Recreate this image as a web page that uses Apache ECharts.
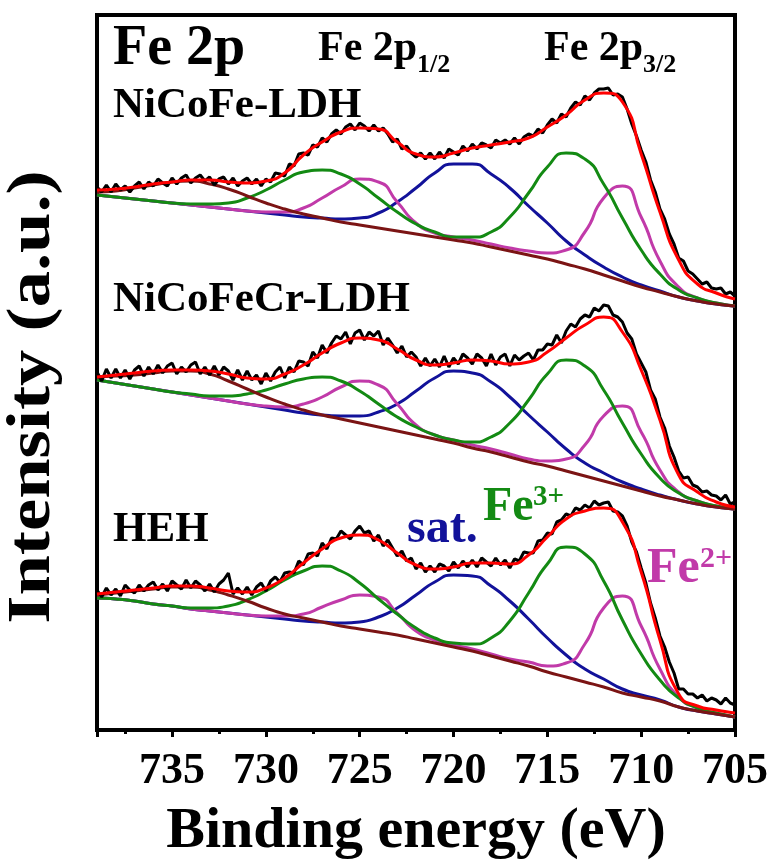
<!DOCTYPE html>
<html lang="en">
<head>
    <meta charset="UTF-8">
    <title>Fe 2p XPS</title>
    <style>
        body { margin: 0; padding: 0; background: #fff; }
        #chart { width: 771px; height: 864px; }
    </style>
</head>
<body>
<div id="chart"></div>
<script src="https://cdn.jsdelivr.net/npm/echarts@6/dist/echarts.min.js"></script>
<script>
    const FONT = '"Liberation Serif", "Times New Roman", serif';

    // binding energy grid (eV) for the fitted curves
    const energy = [739, 738, 737, 736, 735, 734, 733, 732, 731, 730, 729, 728, 727, 726, 725, 724, 723, 722,
        721, 720, 719, 718, 717, 716, 715, 714, 713, 712, 711, 710, 709, 708, 707, 706, 705];

    // binding energy grid (eV) for the raw spectra
    const energyRaw = [
        739, 738.75, 738.5, 738.25, 738, 737.75, 737.5, 737.25, 737, 736.75, 736.5, 736.25,
        736, 735.75, 735.5, 735.25, 735, 734.75, 734.5, 734.25, 734, 733.75, 733.5, 733.25,
        733, 732.75, 732.5, 732.25, 732, 731.75, 731.5, 731.25, 731, 730.75, 730.5, 730.25,
        730, 729.75, 729.5, 729.25, 729, 728.75, 728.5, 728.25, 728, 727.75, 727.5, 727.25,
        727, 726.75, 726.5, 726.25, 726, 725.75, 725.5, 725.25, 725, 724.75, 724.5, 724.25,
        724, 723.75, 723.5, 723.25, 723, 722.75, 722.5, 722.25, 722, 721.75, 721.5, 721.25,
        721, 720.75, 720.5, 720.25, 720, 719.75, 719.5, 719.25, 719, 718.75, 718.5, 718.25,
        718, 717.75, 717.5, 717.25, 717, 716.75, 716.5, 716.25, 716, 715.75, 715.5, 715.25,
        715, 714.75, 714.5, 714.25, 714, 713.75, 713.5, 713.25, 713, 712.75, 712.5, 712.25,
        712, 711.75, 711.5, 711.25, 711, 710.75, 710.5, 710.25, 710, 709.75, 709.5, 709.25,
        709, 708.75, 708.5, 708.25, 708, 707.75, 707.5, 707.25, 707, 706.75, 706.5, 706.25,
        706, 705.75, 705.5, 705.25, 705];

    // NiCoFe-LDH (top)
    const topRaw = [
        543, 538, 545, 538, 546, 540, 544, 538, 544, 548, 541, 548,
        544, 551, 547, 544, 552, 546, 552, 555, 547, 552, 555, 549,
        553, 545, 551, 553, 546, 552, 544, 549, 552, 546, 551, 544,
        551, 548, 557, 556, 554, 566, 564, 576, 577, 575, 585, 583,
        592, 588, 596, 600, 596, 603, 606, 600, 607, 604, 599, 605,
        599, 602, 596, 588, 591, 581, 584, 577, 573, 577, 571, 577,
        571, 578, 572, 581, 578, 575, 584, 579, 586, 581, 587, 585,
        582, 590, 587, 590, 586, 592, 586, 593, 596, 594, 601, 597,
        605, 611, 607, 616, 613, 622, 628, 625, 634, 630, 637, 641,
        641, 642, 635, 636, 633, 621, 606, 594, 580, 568, 550, 538,
        521, 511, 496, 486, 472, 469, 459, 456, 451, 446, 448, 442,
        441, 442, 436, 438, 434];
    const topFit = [540, 541, 543, 546, 548, 550, 550, 548, 547, 549, 557, 575, 588, 598, 602, 601, 588, 576,
        573, 577, 582, 585, 588, 592, 603, 615, 630, 637, 628, 576, 518, 470, 446, 437, 431];
    const topBg = [538, 539, 542, 545, 548, 549, 546, 541, 534, 527, 521, 516, 512, 508, 505, 502, 499, 496,
        493, 490, 487, 483, 479, 475, 471, 466, 461, 455, 449, 443, 438, 433, 429, 426, 424];
    const topFe3 = [535, 533, 531, 529, 527, 526, 526, 527, 532, 540, 550, 558, 560, 556, 546, 532, 518, 506,
        498, 493, 493, 498, 513, 537, 563, 577, 571, 546, 512, 480, 456, 440, 432, 427, 424];
    const topFe2 = [535, 533, 531, 529, 527, 525, 523, 521, 519, 518, 518, 522, 532, 543, 551, 548, 528, 507,
        497, 493, 490, 486, 482, 479, 477, 480, 498, 532, 544, 513, 469, 443, 432, 427, 424];
    const topSat = [535, 533, 531, 529, 527, 525, 523, 521, 519, 517, 515, 513, 512, 511, 512, 517, 528, 542,
        557, 566, 566, 556, 542, 524, 507, 489, 475, 463, 453, 445, 439, 433, 429, 426, 424];

    // NiCoFeCr-LDH (middle)
    const midRaw = [
        358, 349, 361, 352, 361, 352, 360, 351, 360, 364, 354, 363,
        356, 365, 357, 364, 367, 356, 363, 358, 365, 368, 356, 363,
        355, 364, 355, 363, 359, 350, 360, 350, 359, 350, 355, 346,
        357, 349, 358, 363, 352, 363, 358, 369, 368, 364, 378, 372,
        385, 377, 387, 394, 391, 398, 386, 397, 400, 390, 398, 394,
        399, 385, 392, 385, 377, 384, 373, 378, 373, 364, 372, 364,
        371, 363, 374, 363, 372, 366, 376, 372, 366, 376, 372, 364,
        376, 365, 373, 376, 364, 375, 370, 374, 377, 370, 380, 380,
        386, 385, 395, 387, 399, 406, 403, 411, 415, 413, 422, 419,
        425, 424, 415, 413, 408, 397, 391, 376, 367, 358, 340, 331,
        313, 302, 284, 273, 259, 252, 253, 245, 243, 238, 239, 235,
        234, 230, 235, 226, 228];
    const midFit = [353, 355, 357, 359, 360, 360, 359, 356, 352, 351, 356, 365, 377, 387, 392, 390, 381, 370,
        365, 367, 370, 369, 366, 368, 378, 392, 405, 413, 398, 360, 310, 255, 238, 228, 223];
    const midBg = [353, 354, 355, 357, 359, 359, 356, 349, 341, 333, 326, 320, 315, 311, 307, 303, 299, 295,
        291, 287, 282, 278, 273, 268, 264, 259, 254, 249, 244, 239, 234, 230, 226, 223, 221];
    const midFe3 = [350, 347, 344, 341, 338, 336, 334, 334, 336, 340, 346, 351, 353, 349, 339, 326, 313, 303,
        295, 290, 288, 293, 307, 330, 356, 370, 364, 340, 307, 276, 252, 237, 229, 224, 221];
    const midFe2 = [350, 347, 344, 341, 338, 335, 332, 329, 326, 324, 323, 326, 333, 343, 349, 345, 326, 305,
        295, 290, 285, 281, 276, 271, 269, 271, 285, 314, 324, 298, 260, 238, 229, 224, 221];
    const midSat = [350, 347, 344, 341, 338, 335, 332, 329, 326, 323, 320, 317, 315, 314, 314, 318, 326, 339,
        352, 359, 357, 348, 333, 315, 298, 281, 267, 257, 248, 241, 235, 230, 226, 223, 221];

    // HEH (bottom)
    const botRaw = [
        140, 133, 142, 135, 141, 134, 145, 140, 137, 145, 139, 145,
        148, 140, 146, 139, 149, 145, 141, 150, 142, 149, 145, 139,
        146, 138, 146, 150, 157, 136, 142, 136, 143, 135, 143, 147,
        139, 149, 153, 148, 157, 158, 157, 169, 165, 176, 177, 174,
        187, 181, 192, 191, 199, 195, 191, 199, 204, 197, 199, 189,
        195, 184, 190, 182, 174, 179, 169, 172, 161, 167, 158, 164,
        158, 166, 164, 159, 168, 162, 169, 163, 170, 163, 172, 168,
        164, 172, 165, 170, 162, 171, 169, 178, 177, 177, 189, 190,
        197, 196, 208, 210, 216, 214, 222, 220, 225, 222, 229, 225,
        227, 228, 219, 218, 214, 204, 188, 178, 162, 147, 127, 112,
        94, 83, 68, 57, 41, 41, 36, 36, 32, 35, 29, 32,
        30, 26, 32, 27, 25];
    const botFit = [136, 138, 140, 142, 144, 144, 142, 139, 138, 142, 152, 167, 181, 192, 195, 190, 177, 165,
        161, 163, 167, 167, 166, 175, 193, 211, 219, 222, 208, 158, 90, 36, 24, 20, 17];
    const botBg = [135, 137, 139, 141, 143, 143, 140, 135, 129, 122, 116, 112, 108, 104, 101, 98, 95, 91,
        87, 83, 79, 74, 69, 64, 58, 53, 48, 43, 37, 33, 29, 23, 19, 16, 13];
    const botFe3 = [132, 131, 129, 126, 124, 122, 122, 124, 130, 139, 150, 159, 164, 159, 147, 131, 116, 102,
        92, 87, 86, 92, 109, 137, 166, 183, 176, 149, 110, 76, 50, 32, 22, 17, 13];
    const botFe2 = [132, 131, 129, 126, 124, 121, 119, 117, 115, 114, 114, 116, 123, 130, 135, 133, 117, 99,
        90, 85, 81, 76, 71, 68, 64, 67, 86, 122, 134, 104, 61, 33, 22, 17, 13];
    const botSat = [132, 131, 129, 126, 124, 121, 119, 117, 115, 113, 111, 109, 108, 107, 108, 113, 122, 135,
        148, 155, 154, 144, 129, 111, 92, 75, 61, 51, 41, 35, 30, 23, 19, 16, 13];

    const colors = {
        raw: '#000000',
        fit: '#ff0000',
        bg: '#7b1414',
        fe3: '#138a13',
        fe2: '#c13aa9',
        sat: '#12129a'
    };

    const chart = echarts.init(document.getElementById('chart'), null, {renderer: 'canvas'});

    function curve(name, xs, ys, color, width, smooth, z) {
        return {
            name: name,
            type: 'line',
            data: xs.map((x, i) => [x, ys[i]]),
            showSymbol: false,
            smooth: smooth,
            silent: true,
            z: z,
            lineStyle: {color: color, width: width},
            emphasis: {disabled: true}
        };
    }

    const spectra = [
        {id: 'top', raw: topRaw, fit: topFit, bg: topBg, fe3: topFe3, fe2: topFe2, sat: topSat},
        {id: 'mid', raw: midRaw, fit: midFit, bg: midBg, fe3: midFe3, fe2: midFe2, sat: midSat},
        {id: 'bot', raw: botRaw, fit: botFit, bg: botBg, fe3: botFe3, fe2: botFe2, sat: botSat}
    ];

    const series = [];
    spectra.forEach(s => {
        series.push(curve(s.id + '-sat', energy, s.sat, colors.sat, 3, 0.6, 2));
        series.push(curve(s.id + '-fe2', energy, s.fe2, colors.fe2, 3, 0.6, 3));
        series.push(curve(s.id + '-fe3', energy, s.fe3, colors.fe3, 3, 0.6, 4));
        series.push(curve(s.id + '-bg', energy, s.bg, colors.bg, 3, 0.6, 5));
        series.push(curve(s.id + '-raw', energyRaw, s.raw, colors.raw, 3, false, 6));
        series.push(curve(s.id + '-fit', energy, s.fit, colors.fit, 3, 0.6, 7));
    });

    function label(text, x, y, size, color) {
        return {
            type: 'text',
            x: x,
            y: y,
            z: 100,
            style: {
                text: text,
                fill: color || '#000',
                fontFamily: FONT,
                fontWeight: 'bold',
                fontSize: size,
                align: 'left',
                verticalAlign: 'middle'
            }
        };
    }

    const option = {
        backgroundColor: '#ffffff',
        animation: false,
        grid: {
            left: 97,
            right: 36,
            top: 15,
            bottom: 134,
            containLabel: false,
            outerBoundsMode: 'none',
            show: true,
            borderColor: '#000',
            borderWidth: 4,
            backgroundColor: 'transparent'
        },
        xAxis: {
            type: 'value',
            min: 705,
            max: 739,
            interval: 5,
            inverse: true,
            name: 'Binding energy (eV)',
            nameLocation: 'middle',
            nameGap: 73,
            nameTextStyle: {fontFamily: FONT, fontWeight: 'bold', fontSize: 58, color: '#000'},
            axisLine: {show: true, lineStyle: {color: '#000', width: 4}},
            axisTick: {show: true, inside: false, length: 7, lineStyle: {color: '#000', width: 3}},
            minorTick: {show: true, splitNumber: 2, length: 4, lineStyle: {color: '#000', width: 3}},
            axisLabel: {
                show: true,
                margin: 20,
                showMaxLabel: false,
                fontFamily: FONT,
                fontWeight: 'bold',
                fontSize: 44,
                color: '#000'
            },
            splitLine: {show: false},
            minorSplitLine: {show: false}
        },
        yAxis: {
            type: 'value',
            min: 0,
            max: 715,
            axisLine: {show: false},
            axisTick: {show: false},
            axisLabel: {show: false},
            splitLine: {show: false}
        },
        graphic: [
            label('Fe 2p', 113, 50, 56),
            label('Fe 2p', 318, 49, 42),
            label('1/2', 417, 65, 26),
            label('Fe 2p', 544, 49, 42),
            label('3/2', 643, 65, 26),
            label('NiCoFe-LDH', 113, 106, 43),
            label('NiCoFeCr-LDH', 113, 300, 43),
            label('HEH', 113, 530, 43),
            label('sat.', 407, 530, 48, colors.sat),
            label('Fe', 483, 508, 48, colors.fe3),
            label('3+', 533, 498, 29, colors.fe3),
            label('Fe', 647, 569, 50, colors.fe2),
            label('2+', 700, 559, 30, colors.fe2),
            {
                type: 'text',
                x: 33,
                y: 397,
                rotation: Math.PI / 2,
                scaleX: 1.17,
                z: 100,
                style: {
                    text: 'Intensity (a.u.)',
                    fill: '#000',
                    fontFamily: FONT,
                    fontWeight: 'bold',
                    fontSize: 62,
                    align: 'center',
                    verticalAlign: 'middle'
                }
            }
        ],
        series: series
    };

    chart.setOption(option);
</script>
</body>
</html>
